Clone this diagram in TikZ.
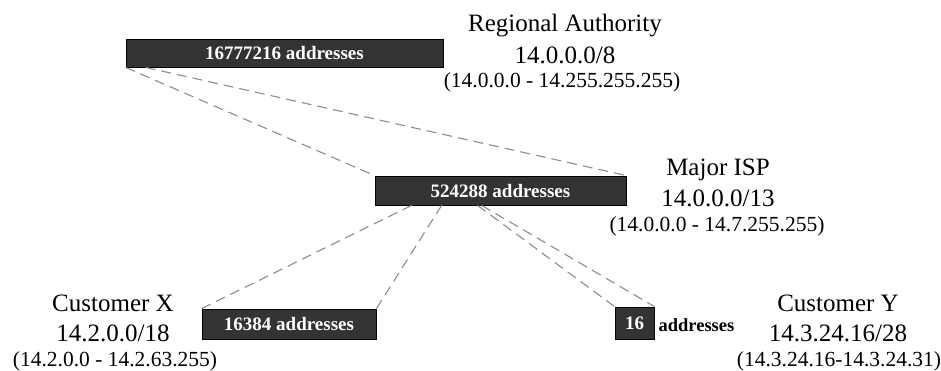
\documentclass[tikz,border=0pt]{standalone}
\usepackage{fontspec}
\setmainfont{Liberation Serif}
\usetikzlibrary{calc}
\begin{document}
\begin{tikzpicture}[x=1pt,y=-1pt,
  blockbox/.style={draw=black,line width=0.8pt,fill=black!80,inner sep=0pt,text=white,font=\fontsize{19}{19}\selectfont\bfseries},
  link/.style={draw=black!45,line width=1.1pt,dash pattern=on 10pt off 6pt},
  big/.style={anchor=base,inner sep=0pt,font=\fontsize{25}{25}\selectfont},
  small/.style={anchor=base,inner sep=0pt,font=\fontsize{21.5}{21.5}\selectfont}]
\useasboundingbox (0,0) rectangle (941,370);
% boxes
\node[blockbox,minimum width=317pt,minimum height=28pt] (ra) at (284.5,53) {16777216 addresses};
\node[blockbox,minimum width=251pt,minimum height=29pt] (isp) at (500.5,190.5) {524288 addresses};
\node[blockbox,minimum width=174pt,minimum height=30pt] (cx) at (289,324) {16384 addresses};
\node[blockbox,minimum width=39pt,minimum height=32pt] (cy) at (634.5,323) {16};
\node[anchor=west,inner sep=0pt,font=\fontsize{18.5}{18.5}\selectfont\bfseries] (cyl) at ($(cy.east)+(4,2)$) {addresses};
% connector end points
\coordinate (raA) at ($(ra.south west)+(20,0)$);
\coordinate (ispA) at ($(isp.south west)+(37,0)$);
\coordinate (ispB) at ($(isp.south west)+(67,0)$);
\coordinate (ispC) at ($(isp.south west)+(103,0)$);
\coordinate (ispD) at ($(isp.south west)+(107,0)$);
% connectors
\draw[link] (ra.south west) -- (isp.north west);
\draw[link] (raA) -- (isp.north east);
\draw[link] (ispA) -- (cx.north west);
\draw[link] (ispB) -- (cx.north east);
\draw[link] (ispC) -- (cy.north west);
\draw[link] (ispD) -- (cy.north east);
% labels
\node[big] (ra1) at (565,31) {Regional Authority};
\node[big] (ra2) at (565,63) {14.0.0.0/8};
\node[small] (ra3) at (562,87) {(14.0.0.0 - 14.255.255.255)};
\node[big] (isp1) at (718,175) {Major ISP};
\node[big] (isp2) at (718,206) {14.0.0.0/13};
\node[small] (isp3) at (717,231) {(14.0.0.0 - 14.7.255.255)};
\node[big] (cx1) at (113,311) {Customer X};
\node[big] (cx2) at (113,341) {14.2.0.0/18};
\node[small] (cx3) at (115,366) {(14.2.0.0 - 14.2.63.255)};
\node[big] (cy1) at (838,311) {Customer Y};
\node[big] (cy2) at (838,341) {14.3.24.16/28};
\node[small] (cy3) at (839,366) {(14.3.24.16-14.3.24.31)};
\end{tikzpicture}
\end{document}
